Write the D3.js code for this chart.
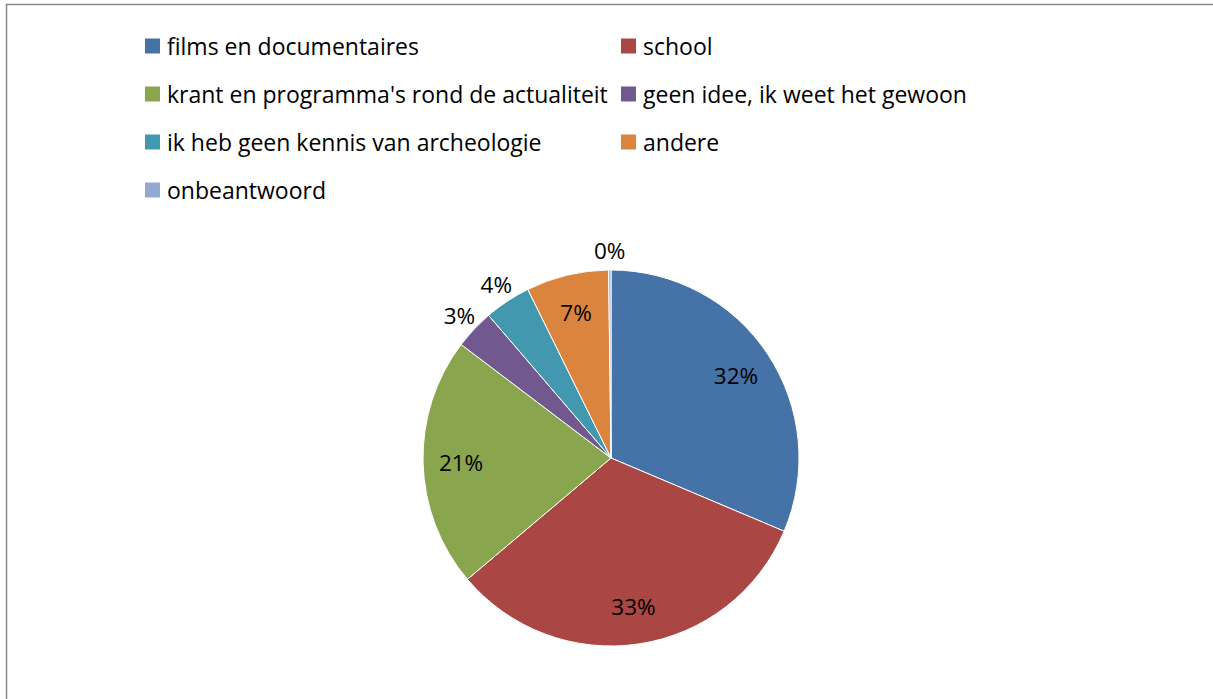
<!DOCTYPE html>
<html><head><meta charset="utf-8">
<script src="https://cdn.jsdelivr.net/npm/d3@7/dist/d3.min.js"></script>
<style>html,body{margin:0;padding:0;background:#fff;overflow:hidden}</style>
</head><body>
<svg id="c" width="1213" height="699"></svg>
<script>
const categories = ["films en documentaires","school","krant en programma's rond de actualiteit","geen idee, ik weet het gewoon","ik heb geen kennis van archeologie","andere","onbeantwoord"];
const values = [31.4, 32.5, 21.5, 3.4, 4.0, 7.1, 0.2];
const labels = ["32%","33%","21%","3%","4%","7%","0%"];
const colors = ["#4572A7","#AA4643","#89A54E","#71588F","#4198AF","#DB843D","#93A9CF"];
const outside = [false,false,false,true,true,false,true];

const svg = d3.select("#c");
const FONT = "'Open Sans', sans-serif";
svg.append("rect").attr("x",6.5).attr("y",4.5).attr("width",1300).attr("height",800)
  .attr("fill","#fff").attr("stroke","#868686").attr("stroke-width",1.5);

const cx = 611, cy = 458, R = 188;
const pie = d3.pie().sort(null).value(d=>d)(values);
const arc = d3.arc().innerRadius(0).outerRadius(R);
const g = svg.append("g").attr("transform",`translate(${cx},${cy})`);
g.selectAll("path").data(pie).join("path")
  .attr("d",arc).attr("fill",(d,i)=>colors[i]).attr("stroke","#fff").attr("stroke-width",1);
const inArc = d3.arc().innerRadius(150).outerRadius(150);
const outArc = d3.arc().innerRadius(208).outerRadius(208);
g.selectAll("text.l").data(pie).join("text").attr("class","l")
  .attr("transform",(d,i)=>`translate(${(outside[i]?outArc:inArc).centroid(d)})`)
  .attr("text-anchor","middle").attr("dominant-baseline","central")
  .attr("font-family",FONT).attr("font-size",22.5).attr("fill","#000")
  .text((d,i)=>labels[i]);

const leg = svg.append("g");
const colX = [145, 621], rowY0 = 46, rowDy = 48;
categories.forEach((c,i)=>{
  const x = colX[i%2], y = rowY0 + Math.floor(i/2)*rowDy;
  leg.append("rect").attr("x",x).attr("y",y-7.5).attr("width",15).attr("height",15).attr("fill",colors[i]);
  leg.append("text").attr("x",x+22).attr("y",y).attr("dominant-baseline","central")
    .attr("font-family",FONT).attr("font-size",23).attr("fill","#000").text(c);
});
</script>
</body></html>
